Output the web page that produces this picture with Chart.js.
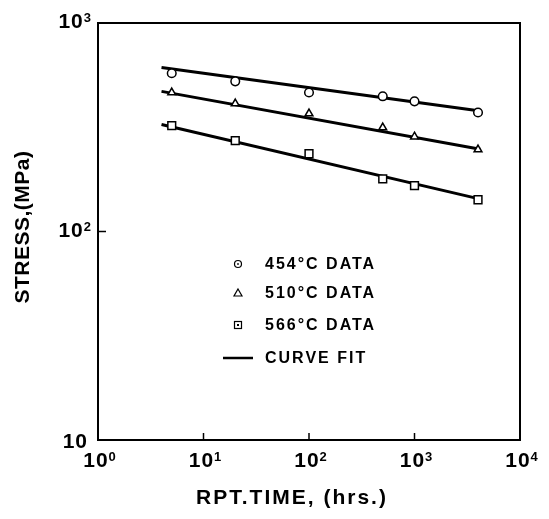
<!DOCTYPE html>
<html>
<head>
<meta charset="utf-8">
<script src="https://cdn.jsdelivr.net/npm/chart.js@4.4.0/dist/chart.umd.min.js"></script>
<style>
  html, body { margin: 0; padding: 0; background: #fff; }
  #wrap { width: 549px; height: 519px; }
</style>
</head>
<body>
<div id="wrap"><canvas id="creepChart" width="549" height="519"></canvas></div>
<script>
// rupture time (hrs) and stress (MPa)
const rptTime = [5, 20, 100, 500, 1000, 4000]
const stress454 = [574, 525, 464, 445, 421, 372]
const stress510 = [464, 411, 368, 315, 285, 247]
const stress566 = [322, 273, 236, 179, 166, 142]

// curve fit end points
const fitTime = [4, 4200]
const fit454 = [612, 378]
const fit510 = [470, 248]
const fit566 = [326, 143]

const xTicks = [1, 10, 100, 1000, 10000]
const xTickExp = ['0', '1', '2', '3', '4']
const yTicks = [1000, 100, 10]
const yTickExp = ['3', '2', '']

const legendLabels = ['454\u00B0C DATA', '510\u00B0C DATA', '566\u00B0C DATA', 'CURVE FIT']

const pts = (xs, ys) => xs.map((x, i) => ({ x: x, y: ys[i] }))
const FONT = '"Liberation Sans", Arial, sans-serif'

const fitLine = (ys) => ({
    data: pts(fitTime, ys),
    showLine: true,
    borderColor: '#000',
    borderWidth: 3,
    pointRadius: 0,
    order: 2
})
const markers = (ys, style, r) => ({
    data: pts(rptTime, ys),
    pointStyle: style,
    pointRadius: r,
    pointBorderWidth: 1.5,
    pointBorderColor: '#000',
    pointBackgroundColor: '#fff',
    showLine: false,
    order: 1
})

// frame, inner ticks, tick labels, titles and legend
const decorations = {
    id: 'decorations',
    afterDraw(chart) {
        const ctx = chart.ctx
        const a = chart.chartArea
        const xs = chart.scales.x
        const ys = chart.scales.y
        ctx.save()
        ctx.strokeStyle = '#000'
        ctx.fillStyle = '#000'
        ctx.lineWidth = 2
        ctx.strokeRect(a.left, a.top, a.right - a.left, a.bottom - a.top)

        // inner ticks
        ctx.lineWidth = 1.5
        ;[10, 100, 1000].forEach(v => {
            const px = xs.getPixelForValue(v)
            ctx.beginPath(); ctx.moveTo(px, a.bottom); ctx.lineTo(px, a.bottom - 7); ctx.stroke()
        })
        const py100 = ys.getPixelForValue(100)
        ctx.beginPath(); ctx.moveTo(a.left, py100); ctx.lineTo(a.left + 8, py100); ctx.stroke()

        // x tick labels
        ctx.letterSpacing = '1px'
        ctx.textBaseline = 'alphabetic'
        xTicks.forEach((v, i) => {
            const px = xs.getPixelForValue(v)
            ctx.font = 'bold 21px ' + FONT
            const w1 = ctx.measureText('10').width
            ctx.font = 'bold 13px ' + FONT
            const w2 = ctx.measureText(xTickExp[i]).width
            const x0 = px - (w1 + w2) / 2 + 2
            ctx.font = 'bold 21px ' + FONT
            ctx.textAlign = 'left'
            ctx.fillText('10', x0, a.bottom + 27)
            ctx.font = 'bold 13px ' + FONT
            ctx.fillText(xTickExp[i], x0 + w1, a.bottom + 21)
        })
        // y tick labels
        yTicks.forEach((v, i) => {
            const py = ys.getPixelForValue(v)
            ctx.font = 'bold 13px ' + FONT
            const w2 = yTickExp[i] ? ctx.measureText(yTickExp[i]).width : 0
            ctx.font = 'bold 21px ' + FONT
            const w1 = ctx.measureText('10').width
            const right = yTickExp[i] ? a.left - 6 : a.left - 10
            const base = yTickExp[i] ? py + 5 : py + 8
            ctx.textAlign = 'left'
            ctx.fillText('10', right - w2 - w1, base)
            if (yTickExp[i]) {
                ctx.font = 'bold 13px ' + FONT
                ctx.fillText(yTickExp[i], right - w2, base - 6)
            }
        })

        // axis titles
        ctx.font = 'bold 21px ' + FONT
        ctx.letterSpacing = '2px'
        ctx.textAlign = 'center'
        ctx.textBaseline = 'middle'
        ctx.fillText('RPT.TIME, (hrs.)', 292, 498)
        ctx.letterSpacing = '0.5px'
        ctx.save()
        ctx.translate(23, 227)
        ctx.rotate(-Math.PI / 2)
        ctx.fillText('STRESS,(MPa)', 0, 0)
        ctx.restore()

        // legend
        const lx = 238
        const tx = 265
        const rows = [264, 293, 325, 358]
        ctx.lineWidth = 1.2
        ctx.beginPath(); ctx.arc(lx, rows[0], 3.5, 0, Math.PI * 2); ctx.stroke()
        ctx.fillRect(lx - 0.8, rows[0] - 0.8, 1.6, 1.6)
        ctx.beginPath()
        ctx.moveTo(lx, rows[1] - 4); ctx.lineTo(lx + 4, rows[1] + 3); ctx.lineTo(lx - 4, rows[1] + 3); ctx.closePath()
        ctx.stroke()
        ctx.strokeRect(lx - 3.5, rows[2] - 3.5, 7, 7)
        ctx.fillRect(lx - 1, rows[2] - 1, 2, 2)
        ctx.lineWidth = 2.5
        ctx.beginPath(); ctx.moveTo(223, rows[3]); ctx.lineTo(253, rows[3]); ctx.stroke()

        ctx.font = 'bold 16px ' + FONT
        ctx.letterSpacing = '2px'
        ctx.textAlign = 'left'
        legendLabels.forEach((t, i) => ctx.fillText(t, tx, rows[i] + 1))
        ctx.restore()
    }
}

const creepChart = new Chart(document.getElementById('creepChart'), {
    type: 'scatter',
    data: {
        datasets: [
            markers(stress454, 'circle', 4.3),
            markers(stress510, 'triangle', 4.5),
            markers(stress566, 'rect', 5.5),
            fitLine(fit454),
            fitLine(fit510),
            fitLine(fit566)
        ]
    },
    options: {
        responsive: false,
        animation: false,
        layout: { padding: { left: 98, right: 29, top: 23, bottom: 79 } },
        plugins: {
            legend: { display: false },
            tooltip: { enabled: false }
        },
        scales: {
            x: { type: 'logarithmic', min: 1, max: 10000, display: false },
            y: { type: 'logarithmic', min: 10, max: 1000, display: false }
        }
    },
    plugins: [decorations]
})
</script>
</body>
</html>
